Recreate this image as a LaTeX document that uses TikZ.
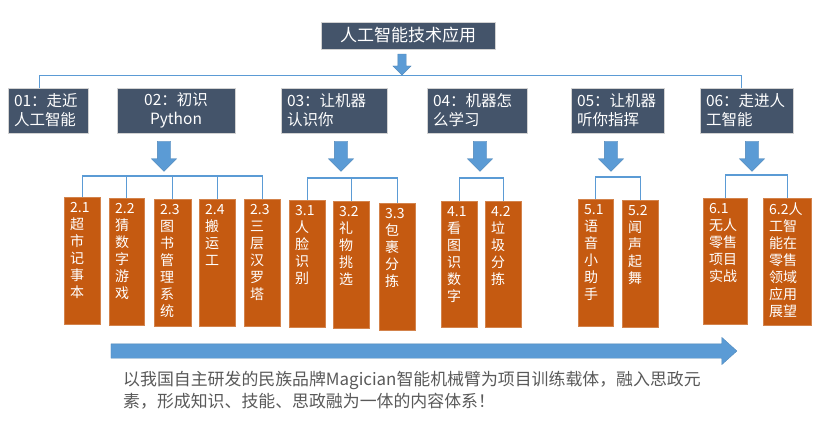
\documentclass[tikz,border=0pt]{standalone}
\usepackage{fontspec}
\setmainfont{Noto Sans CJK SC}
\usetikzlibrary{positioning,calc,shapes.arrows}
\definecolor{slatebox}{HTML}{44546A}
\definecolor{leaforange}{HTML}{C55A11}
\definecolor{flowblue}{HTML}{5B9BD5}
\definecolor{notegray}{HTML}{595959}

\begin{document}
\begin{tikzpicture}[x=1pt, y=-1pt,
  topbox/.style={rectangle, fill=slatebox, draw=gray!35, line width=0.6pt,
                 text=white, font=\fontsize{17}{20}\selectfont, inner sep=0pt},
  modbox/.style={rectangle, fill=slatebox, draw=gray!35, line width=0.6pt,
                 text=white, font=\fontsize{15.5}{19}\selectfont,
                 inner xsep=6pt, inner ysep=0pt, minimum height=45pt},
  leaf/.style={rectangle, fill=leaforange, draw=leaforange!75!white,
               line width=0.5pt, anchor=north west, inner sep=0pt},
  leaftxt/.style={anchor=north west, text=white, align=left,
                  font=\fontsize{14}{17}\selectfont, inner sep=0pt},
  downarr/.style={single arrow, rotate=-90, fill=flowblue,
                  draw=flowblue!85!black, line width=0.3pt,
                  inner xsep=0pt, inner ysep=6.5pt, minimum height=30pt,
                  single arrow head extend=6pt},
  link/.style={draw=flowblue, line width=1.1pt},
]
  \useasboundingbox (0,0) rectangle (823,440);

  % title and the six modules
  \node[topbox, minimum width=174pt, minimum height=27pt] (title)
    at (408,35.5) {人工智能技术应用};
  \node[downarr, inner ysep=4pt, minimum height=21pt,
        single arrow head extend=5pt] (tarr) at (402,62.5) {};
  \foreach \i/\cx/\w/\al/\txt in {
      1/48/80/left/{01：走近\\人工智能},
      2/176/118/center/{02：初识\\Python},
      3/334/106/left/{03：让机器\\认识你},
      4/477/100/left/{04：机器怎\\么学习},
      5/617.5/93/left/{05：让机器\\听你指挥},
      6/746.5/93/left/{06：走进人\\工智能}}{
    \pgfmathsetmacro\tw{\w-12}
    \node[modbox, minimum width=\w pt, text width=\tw pt, align=\al] (m\i)
      at (\cx,110.5) {\txt};
  }
  \draw[link] ([xshift=32pt]m1.north west) |- (tarr.tip)
    -| ([xshift=42pt]m6.north west);

  \foreach \i/\cx in {2/164, 3/341, 4/480, 5/611, 6/752}{
    \node[downarr] (a\i) at (\cx,153) {};
  }

  % lessons
  \foreach \nm/\x/\y/\w/\h/\txt in {
      21/64/197/36/127/{2.1\\超\\市\\记\\事\\本},
      22/109/198/35/127/{2.2\\猜\\数\\字\\游\\戏},
      23/154/199/37/127/{2.3\\图\\书\\管\\理\\系\\统},
      24/199/199/36/127/{2.4\\搬\\运\\工},
      25/244/199/36/127/{2.3\\三\\层\\汉\\罗\\塔},
      31/289/200/36/127/{3.1\\人\\脸\\识\\别},
      32/333/201/36/127/{3.2\\礼\\物\\挑\\选},
      33/379/203/36/127/{3.3\\包\\裹\\分\\拣},
      41/441/201/36/126/{4.1\\看\\图\\识\\数\\字},
      42/485/201/36/126/{4.2\\垃\\圾\\分\\拣},
      51/578/199/35/127/{5.1\\语\\音\\小\\助\\手},
      52/622/200/36/127/{5.2\\闻\\声\\起\\舞},
      61/703/198/44/126/{6.1\\无人\\零售\\项目\\实战},
      62/763/198/48/127/{6.2人\\工智\\能在\\零售\\领域\\应用\\展望}}{
    \node[leaf, minimum width=\w pt, minimum height=\h pt] (l\nm) at (\x,\y) {};
    \node[leaftxt] (t\nm) at ([shift={(6,5)}]l\nm.north west) {\txt};
  }

  \foreach \g/\y/\first/\last in {2/176/21/25, 3/178/31/33, 4/178/41/42,
                                  5/177/51/52, 6/175/61/62}{
    \draw[link] (l\first.north) |- (a\g.tip |- 0,\y) -| (l\last.north);
  }
  \foreach \c in {22, 23, 24}{
    \draw[link] (l\c.north) -- (l\c.north |- 0,176);
  }
  \draw[link] (l32.north) -- (l32.north |- 0,178);

  % bottom
  \node[single arrow, fill=flowblue, draw=flowblue!85!black, line width=0.3pt,
        inner xsep=0pt, inner ysep=7pt, minimum height=626pt,
        single arrow head extend=6.5pt, single arrow tip angle=84]
    (progress) at (420,351) {};
  \node[anchor=north west, align=left, text=notegray, inner sep=0pt,
        font=\fontsize{16.9}{22}\selectfont] (note) at (123,371)
    {以我国自主研发的民族品牌Magician智能机械臂为项目训练载体，融入思政元\\
     素，形成知识、技能、思政融为一体的内容体系！};
\end{tikzpicture}
\end{document}
